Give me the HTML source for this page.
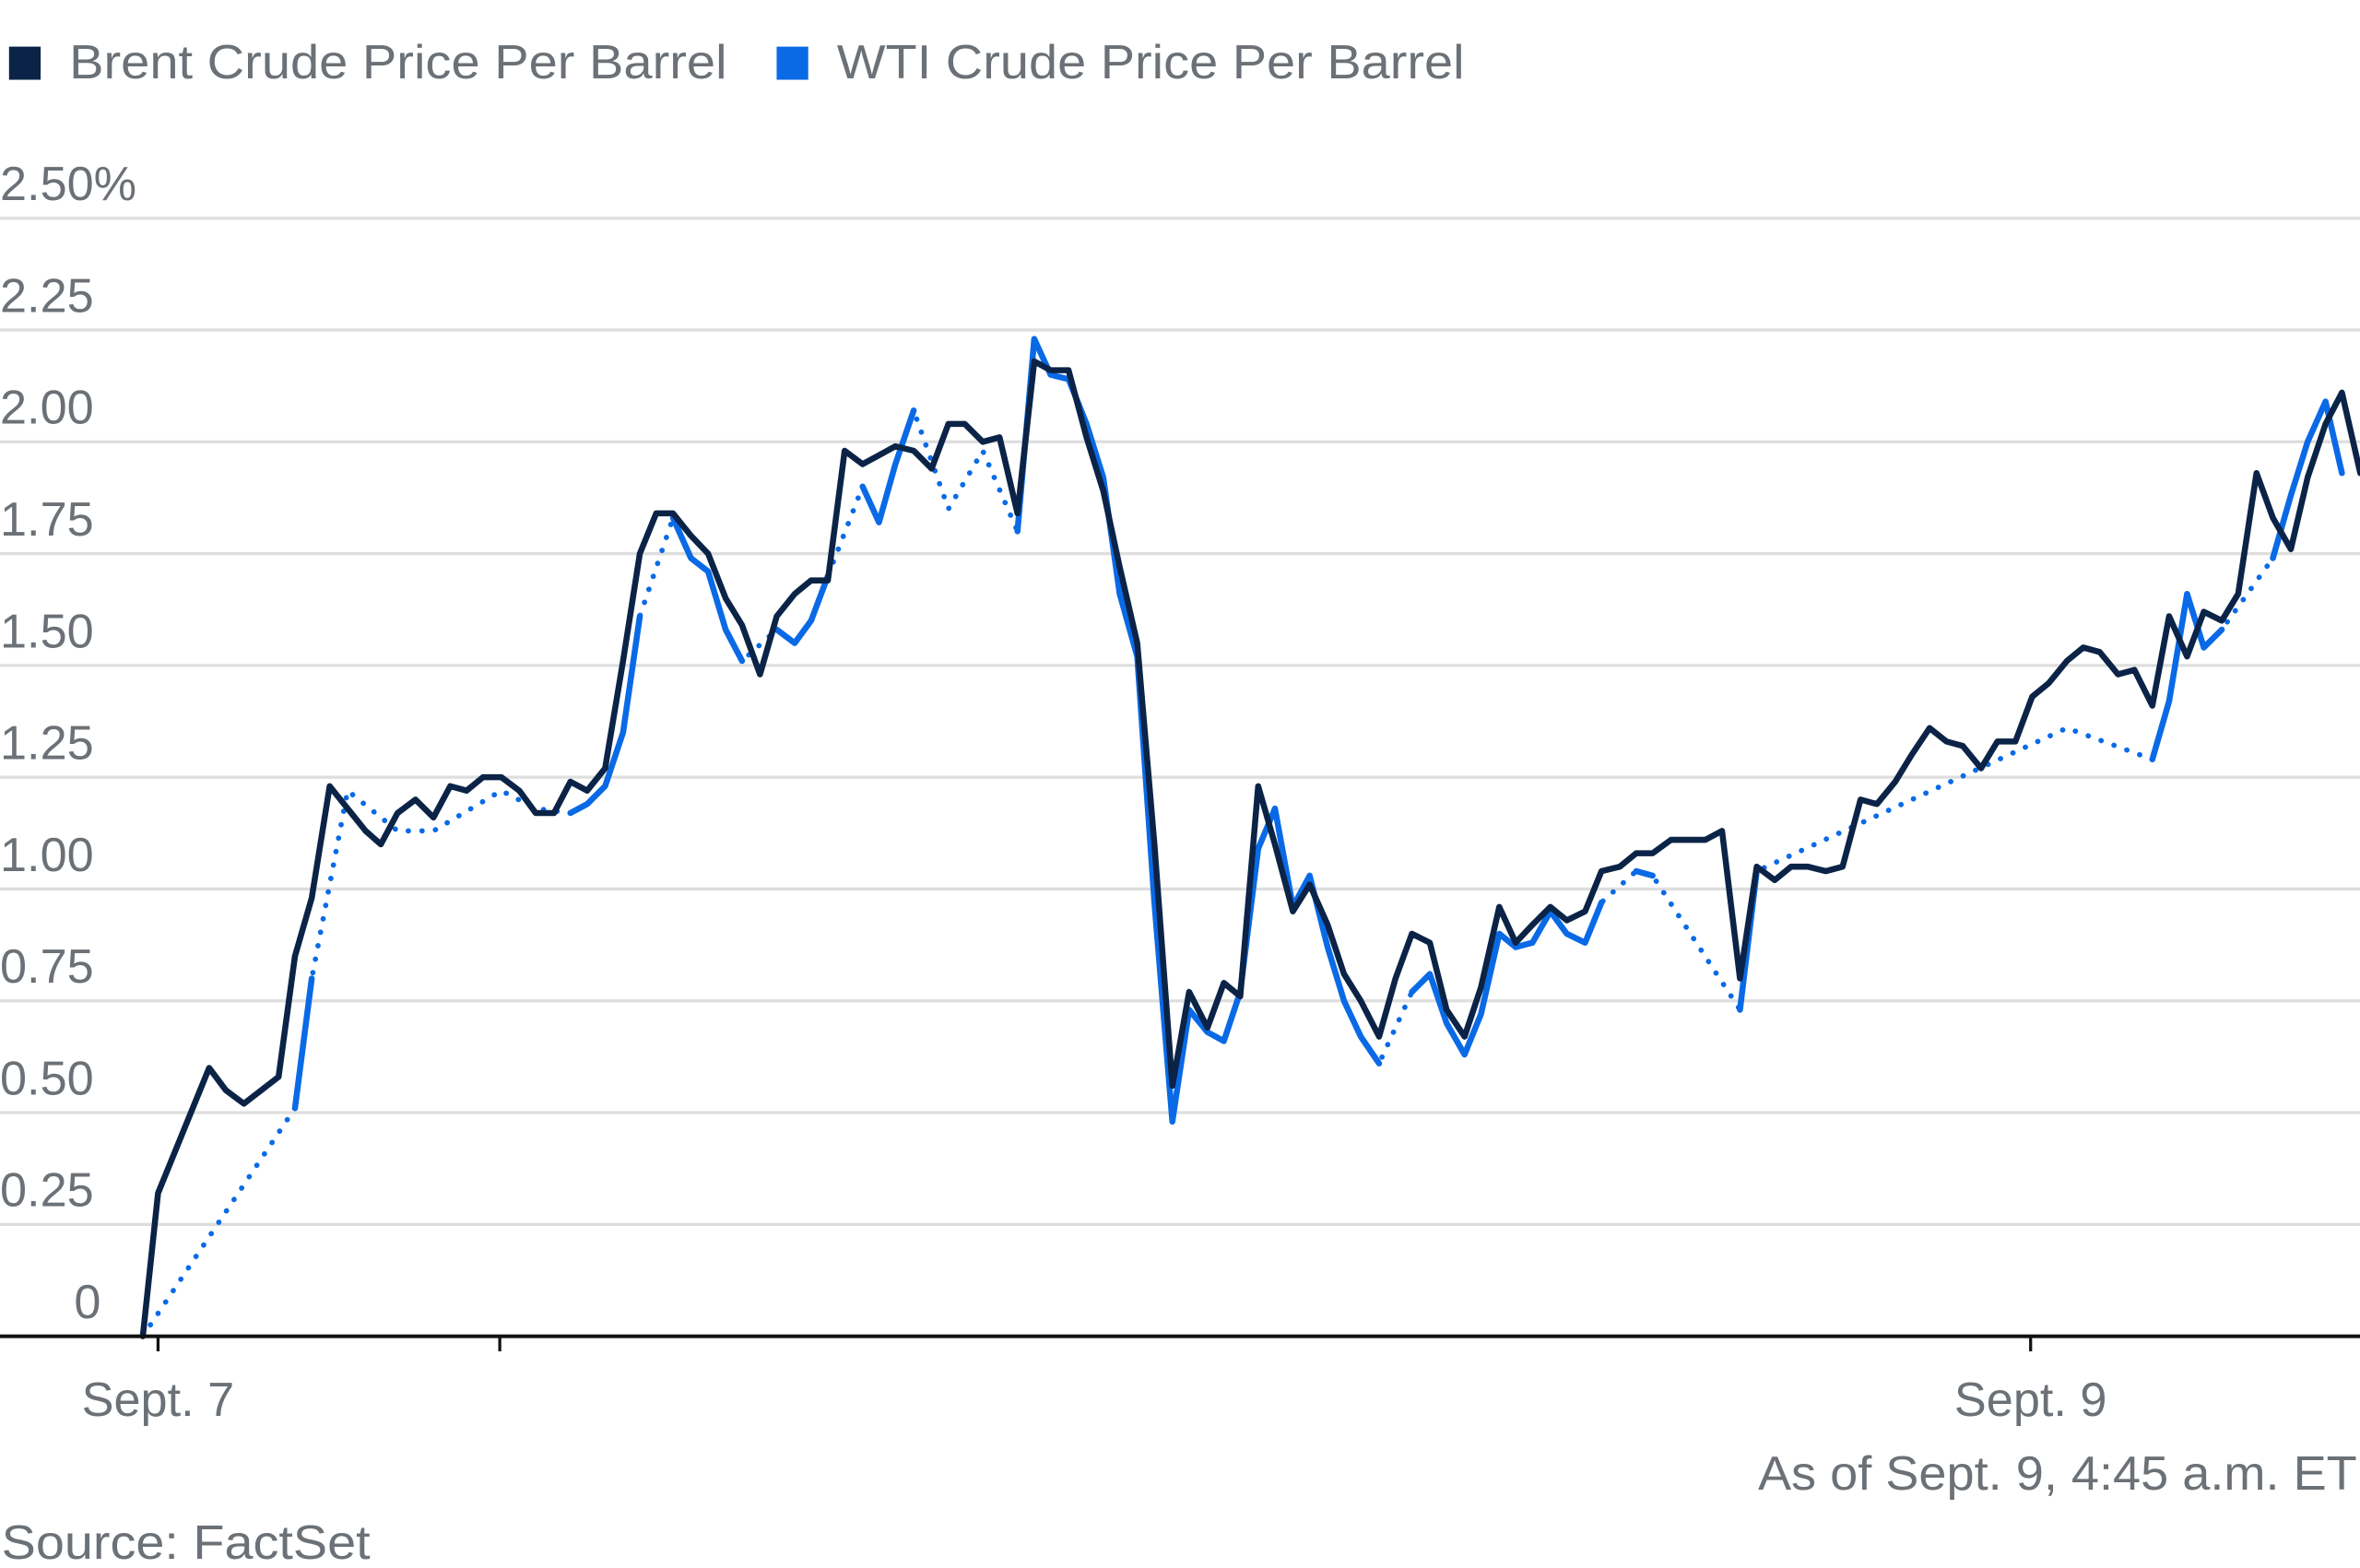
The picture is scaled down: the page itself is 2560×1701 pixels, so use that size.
<!DOCTYPE html>
<html><head><meta charset="utf-8"><style>
html,body{margin:0;padding:0;background:#fff;}
svg{display:block;font-family:"Liberation Sans",sans-serif;}
</style></head><body>
<svg id="chart" width="2560" height="1701" viewBox="0 0 1568 1042" preserveAspectRatio="none" xmlns="http://www.w3.org/2000/svg">
<g>
<rect x="6" y="31" width="21" height="22" fill="#0b2346"/>
<text x="46" y="52" font-size="32" fill="#6b7176" textLength="437" lengthAdjust="spacingAndGlyphs">Brent Crude Price Per Barrel</text>
<rect x="516" y="31" width="21" height="22" fill="#0a6ae6"/>
<text x="556" y="52" font-size="32" fill="#6b7176" textLength="417" lengthAdjust="spacingAndGlyphs">WTI Crude Price Per Barrel</text>
</g>
<g id="grid"></g>
<g id="series"></g>
<g id="xaxis"></g>
<text x="1566" y="990" font-size="32" fill="#6b7176" text-anchor="end" textLength="398" lengthAdjust="spacingAndGlyphs">As of Sept. 9, 4:45 a.m. ET</text>
<text x="1" y="1036" font-size="32" fill="#6b7176" textLength="245" lengthAdjust="spacingAndGlyphs">Source: FactSet</text>
</svg>
<script>
const yTicks = [0, 0.25, 0.5, 0.75, 1.0, 1.25, 1.5, 1.75, 2.0, 2.25, 2.5];
const yTickLabels = ["0","0.25","0.50","0.75","1.00","1.25","1.50","1.75","2.00","2.25","2.50%"];
const xTicks = [0, 8.76, 48];
const xTickLabels = ["Sept. 7", "", "Sept. 9"];
const hours = [-0.39,0,1.31,1.74,2.2,3.09,3.51,3.94,4.4,4.86,5.32,5.71,6.14,6.6,7.06,7.49,7.91,8.33,8.8,9.26,9.68,10.15,10.57,11.0,11.46,11.92,12.35,12.77,13.2,13.66,14.1,14.55,14.97,15.43,15.86,16.32,16.74,17.17,17.6,18.06,18.48,18.9,19.37,19.83,20.26,20.68,21.14,21.57,22.03,22.46,22.88,23.34,23.8,24.23,24.65,25.1,25.54,26.0,26.43,26.9,27.32,27.74,28.2,28.63,29.09,29.52,29.98,30.4,30.83,31.3,31.72,32.14,32.6,33.03,33.49,33.91,34.38,34.8,35.23,35.69,36.11,36.58,37.0,37.47,37.89,38.31,38.78,39.2,39.66,40.09,40.55,40.98,41.44,41.86,42.29,42.75,43.18,43.64,44.06,44.53,44.95,45.41,45.84,46.26,46.73,47.15,47.61,48.04,48.46,48.93,49.35,49.77,50.24,50.66,51.12,51.55,52.01,52.44,52.9,53.32,53.79,54.21,54.67,55.1,55.56,55.98,56.45];
const brent = [0,0.32,0.60,0.55,0.52,0.58,0.85,0.98,1.23,1.18,1.13,1.10,1.17,1.20,1.16,1.23,1.22,1.25,1.25,1.22,1.17,1.17,1.24,1.22,1.27,1.51,1.75,1.84,1.84,1.79,1.75,1.65,1.59,1.48,1.61,1.66,1.69,1.69,1.98,1.95,1.97,1.99,1.98,1.94,2.04,2.04,2.0,2.01,1.84,2.18,2.16,2.16,2.01,1.89,1.72,1.55,1.10,0.56,0.77,0.69,0.79,0.76,1.23,1.10,0.95,1.01,0.92,0.81,0.75,0.67,0.80,0.90,0.88,0.73,0.67,0.78,0.96,0.88,0.92,0.96,0.93,0.95,1.04,1.05,1.08,1.08,1.11,1.11,1.11,1.13,0.80,1.05,1.02,1.05,1.05,1.04,1.05,1.20,1.19,1.24,1.30,1.36,1.33,1.32,1.27,1.33,1.33,1.43,1.46,1.51,1.54,1.53,1.48,1.49,1.41,1.61,1.52,1.62,1.60,1.66,1.93,1.83,1.76,1.92,2.04,2.11,1.93];
const wti = [0,null,null,null,null,null,0.51,0.80,null,1.22,null,null,1.13,null,1.13,null,null,null,1.22,null,1.18,null,1.17,1.19,1.23,1.35,1.61,null,1.83,1.74,1.71,1.58,1.51,null,1.58,1.55,1.60,1.70,null,1.90,1.82,1.95,2.07,null,1.85,null,1.98,null,1.80,2.23,2.15,2.14,2.04,1.92,1.66,1.52,0.97,0.48,0.73,0.68,0.66,0.77,1.09,1.18,0.96,1.03,0.87,0.75,0.67,0.61,null,0.77,0.81,0.70,0.63,0.72,0.90,0.87,0.88,0.95,0.90,0.88,0.97,null,1.04,1.03,null,null,null,null,0.73,1.04,null,null,null,null,null,null,null,null,null,null,null,null,null,null,null,null,null,1.36,null,null,null,null,1.29,1.42,1.66,1.54,1.58,null,null,1.74,1.88,2.0,2.09,1.93];

const NS = "http://www.w3.org/2000/svg";
const yScale = v => 888 - v * 297.2;
const xScale = h => 105 + h * 25.92;
const grid = document.getElementById('grid');
yTicks.forEach((t, i) => {
  if (t > 0) {
    const l = document.createElementNS(NS, 'line');
    
    
    l.setAttribute('x1', 0); l.setAttribute('x2', 1568);
    l.setAttribute('y1', yScale(t)); l.setAttribute('y2', yScale(t));
    l.setAttribute('stroke', '#dedede'); l.setAttribute('stroke-width', 2);
    grid.appendChild(l);
  }
  const tx = document.createElementNS(NS, 'text');
  
  
  if (t === 0) { tx.setAttribute('x', 67); tx.setAttribute('text-anchor', 'end'); }
  else tx.setAttribute('x', 0);
  tx.setAttribute('y', yScale(t) - 12);
  tx.setAttribute('font-size', 32);
  tx.setAttribute('fill', '#6b7176');
  tx.textContent = yTickLabels[i];
  grid.appendChild(tx);
});
const xa = document.getElementById('xaxis');
const ax = document.createElementNS(NS, 'line');


ax.setAttribute('x1', 0); ax.setAttribute('x2', 1568); ax.setAttribute('y1', 888); ax.setAttribute('y2', 888);
ax.setAttribute('stroke', '#111'); ax.setAttribute('stroke-width', 2.5);
xa.appendChild(ax);
xTicks.forEach((h, i) => {
  const tk = document.createElementNS(NS, 'line');
  
  
  tk.setAttribute('x1', xScale(h)); tk.setAttribute('x2', xScale(h));
  tk.setAttribute('y1', 888); tk.setAttribute('y2', 898);
  tk.setAttribute('stroke', '#111'); tk.setAttribute('stroke-width', 2);
  xa.appendChild(tk);
  if (xTickLabels[i]) {
    const tx = document.createElementNS(NS, 'text');
    
    
    tx.setAttribute('x', xScale(h)); tx.setAttribute('y', 941);
    tx.setAttribute('text-anchor', 'middle'); tx.setAttribute('font-size', 32);
    tx.setAttribute('fill', '#6b7176');
    tx.textContent = xTickLabels[i];
    xa.appendChild(tx);
  }
});
const ser = document.getElementById('series');
function path(d, color, dash, name) {
  const p = document.createElementNS(NS, 'path');
  
  
  p.setAttribute('d', d); p.setAttribute('fill', 'none');
  p.setAttribute('stroke', color); p.setAttribute('stroke-width', dash ? 3.5 : 4);
  p.setAttribute('stroke-linejoin', 'round');
  p.setAttribute('stroke-linecap', 'round');
  if (dash) p.setAttribute('stroke-dasharray', '0.1 9');
  ser.appendChild(p);
}
// WTI dotted through all points (gaps)
let dd = '';
wti.forEach((v, i) => { if (v !== null) dd += (dd ? 'L' : 'M') + xScale(hours[i]) + ',' + yScale(v); });
path(dd, '#0a6ae6', true, 'wti-gap-line');
// WTI solid segments
let sd = '';
for (let i = 1; i < wti.length; i++) {
  if (wti[i] !== null && wti[i - 1] !== null) {
    sd += 'M' + xScale(hours[i - 1]) + ',' + yScale(wti[i - 1]) + 'L' + xScale(hours[i]) + ',' + yScale(wti[i]);
  }
}
path(sd, '#0a6ae6', false, 'wti-line');
let bd = '';
brent.forEach((v, i) => { bd += (i ? 'L' : 'M') + xScale(hours[i]) + ',' + yScale(v); });
path(bd, '#0b2346', false, 'brent-line');
</script>
</body></html>
